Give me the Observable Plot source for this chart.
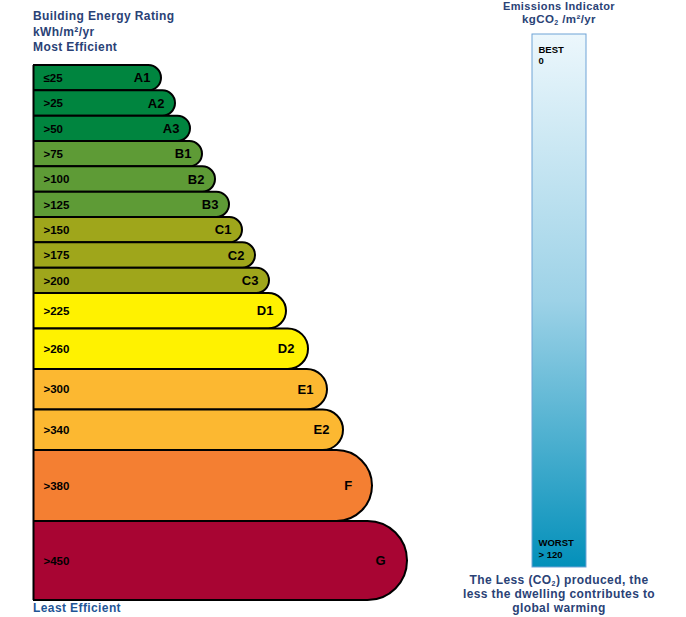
<!DOCTYPE html>
<html>
<head>
<meta charset="utf-8">
<script src="https://cdn.jsdelivr.net/npm/d3@7"></script>
<script src="https://cdn.jsdelivr.net/npm/@observablehq/plot@0.6"></script>
<style>
  body { margin: 0; background: #fff; }
  #wrap { position: relative; width: 686px; height: 617px; overflow: hidden; font-family: "Liberation Sans", Arial, sans-serif; }
  #wrap svg { position: absolute; }
  .t { position: absolute; font-weight: bold; color: #2a4276; font-size: 12px; letter-spacing: 0.4px; white-space: nowrap; }
  .t sub { font-size: 7px; vertical-align: -2px; line-height: 0; }
</style>
</head>
<body>
<div id="wrap"></div>
<script>
// ---- data ----
const ratings    = ["A1","A2","A3","B1","B2","B3","C1","C2","C3","D1","D2","E1","E2","F","G"];
const thresholds = ["≤25",">25",">50",">75",">100",">125",">150",">175",">200",">225",">260",">300",">340",">380",">450"];
const bandFrom   = [0, 25, 50, 75, 100, 125, 150, 175, 200, 225, 260, 300, 340, 380, 450];
const bandTo     = [25, 50, 75, 100, 125, 150, 175, 200, 225, 260, 300, 340, 380, 450, 528];
const reach      = [128, 142, 157, 169, 182, 196, 209, 222, 236, 253, 275, 294, 310, 339, 374];
const letters    = ["A","B","C","D","E","F","G"];
const letterColors = ["#00853f","#5e9b36","#9fa61b","#fff200","#fcb831","#f47f32","#a80533"];
const co2Range   = [0, 120];
const co2Labels  = ["BEST\n0", "WORST\n> 120"];

const rows = ratings.map((r, i) => ({
  rating: r, letter: r[0], threshold: thresholds[i],
  lo: bandFrom[i], hi: bandTo[i], reach: reach[i]
}));

const wrap = document.getElementById("wrap");
const font = "Liberation Sans, Arial, sans-serif";

// ---- main rating chart ----
const yDom = [0, 528], yRange = [65, 600];
const pxPerUnit = (yRange[1] - yRange[0]) / (yDom[1] - yDom[0]);
const radius = d => (d.hi - d.lo) * pxPerUnit / 2;

const barMarks = rows.map(d => Plot.rect([d], {
  x1: () => -radius(d) - 6, x2: "reach", y1: "lo", y2: "hi",
  fill: "letter", stroke: "black", strokeWidth: 2, rx: radius(d), clip: true
}));

const main = Plot.plot({
  width: 686, height: 617,
  marginLeft: 33, marginRight: 0, marginTop: 58, marginBottom: 10,
  style: { fontFamily: font, background: "transparent" },
  x: { domain: [0, 653], axis: null },
  y: { domain: yDom, range: yRange, axis: null },
  color: { domain: letters, range: letterColors },
  marks: [
    ...barMarks,
    Plot.ruleX([0], { y1: yDom[0], y2: 528, stroke: "black", strokeWidth: 2 }),
    Plot.text(rows, {
      x: 0, y: d => (d.lo + d.hi) / 2, text: "threshold", dx: 10,
      textAnchor: "start", fontSize: 11.5, fontWeight: "bold", fill: "black"
    }),
    Plot.text(rows, {
      x: d => d.reach - (6 + 0.2 * (d.hi - d.lo) * pxPerUnit),
      y: d => (d.lo + d.hi) / 2, text: "rating",
      textAnchor: "end", fontSize: 13, fontWeight: "bold", fill: "black"
    })
  ]
});
main.style.left = "0px"; main.style.top = "0px";
wrap.appendChild(main);

// ---- emissions indicator ----
const em = Plot.plot({
  width: 56, height: 535, margin: 1,
  style: { fontFamily: font, background: "transparent" },
  x: { domain: [0, 1], axis: null },
  y: { domain: co2Range, reverse: true, axis: null },
  marks: [
    Plot.rect([{ lo: co2Range[0], hi: co2Range[1] }], {
      x1: 0, x2: 1, y1: "lo", y2: "hi", fill: "url(#co2grad)", stroke: "#6fa3d6", strokeWidth: 1
    }),
    Plot.text([co2Labels[0]], {
      x: 0, y: co2Range[0], text: d => d, dx: 6, dy: 11, lineAnchor: "top",
      textAnchor: "start", fontSize: 9.5, lineHeight: 1.15, fontWeight: "bold", fill: "black"
    }),
    Plot.text([co2Labels[1]], {
      x: 0, y: co2Range[1], text: d => d, dx: 6, dy: -10, lineAnchor: "bottom",
      textAnchor: "start", fontSize: 9.5, lineHeight: 1.2, fontWeight: "bold", fill: "black"
    })
  ]
});
const defs = d3.select(em).insert("defs", ":first-child");
const grad = defs.append("linearGradient").attr("id", "co2grad")
  .attr("x1", 0).attr("y1", 0).attr("x2", 0).attr("y2", 1);
grad.append("stop").attr("offset", "0%").attr("stop-color", "#ecf7fc");
grad.append("stop").attr("offset", "50%").attr("stop-color", "#9dd2e7");
grad.append("stop").attr("offset", "100%").attr("stop-color", "#0390ba");
em.style.left = "531px"; em.style.top = "33px";
wrap.appendChild(em);

// ---- text ----
function addText(html, css) {
  const d = document.createElement("div");
  d.className = "t";
  d.innerHTML = html;
  Object.assign(d.style, css);
  wrap.appendChild(d);
}
addText("Building Energy Rating<br>kWh/m²/yr<br>Most Efficient", { left: "33px", top: "9px", lineHeight: "15.5px" });
addText("Least Efficient", { left: "33px", top: "601px", lineHeight: "15.5px", color: "#1f5596" });
addText("Emissions Indicator", { left: "459px", width: "200px", textAlign: "center", top: "0px", fontSize: "11px", lineHeight: "12.3px" });
addText("kgCO<sub>2</sub> /m²/yr", { left: "459px", width: "200px", textAlign: "center", top: "12.5px", fontSize: "11.5px", lineHeight: "12.8px" });
addText("The Less (CO<sub>2</sub>) produced, the<br>less the dwelling contributes to<br>global warming", { left: "459px", width: "200px", textAlign: "center", top: "573px", lineHeight: "14px" });
</script>
</body>
</html>
